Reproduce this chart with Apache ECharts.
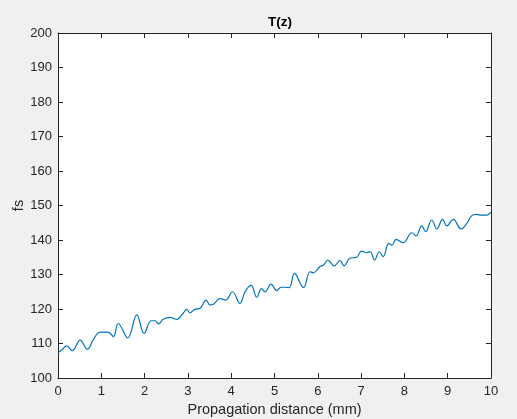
<!DOCTYPE html>
<html>
<head>
<meta charset="utf-8">
<script src="https://cdn.jsdelivr.net/npm/echarts@6/dist/echarts.min.js"></script>
<style>html,body{margin:0;padding:0;background:#f0f0f0;}#c{width:517px;height:419px;}</style>
</head>
<body>
<div id="c"></div>
<script>
var zValues = [0, 0.085, 0.2, 0.33, 0.51, 0.68, 0.82, 0.97, 1.16, 1.28, 1.39, 1.61, 1.82, 1.99, 2.15, 2.24, 2.32, 2.43, 2.59, 2.66, 2.74, 2.9, 2.97, 3.05, 3.16, 3.28, 3.42, 3.51, 3.59, 3.74, 3.87, 4.03, 4.2, 4.32, 4.46, 4.59, 4.7, 4.78, 4.92, 5.05, 5.15, 5.24, 5.34, 5.46, 5.67, 5.82, 5.9, 6.05, 6.13, 6.23, 6.38, 6.51, 6.61, 6.74, 6.9, 7.01, 7.13, 7.21, 7.31, 7.42, 7.51, 7.64, 7.71, 7.81, 7.97, 8.17, 8.27, 8.4, 8.49, 8.63, 8.75, 8.88, 8.98, 9.13, 9.31, 9.44, 9.55, 9.67, 9.79, 9.9, 10];
var tValues = [107.3, 108.1, 109.3, 107.9, 111, 108.3, 111.2, 113.3, 113.3, 112, 115.8, 111.6, 118.3, 112.9, 116.6, 116.6, 115.7, 117, 117.6, 117.3, 117, 118.9, 119.9, 118.9, 119.9, 120.2, 122.6, 121.2, 121.4, 123, 122.6, 125, 121.6, 125, 126.9, 123.4, 125.9, 125, 127.2, 125.3, 126.3, 126.3, 126.2, 130.3, 126.2, 130.8, 130.5, 132.3, 132.7, 134.2, 132.5, 134, 132.5, 134.7, 135, 136.8, 136.3, 136.6, 134.2, 136.6, 135.2, 139, 138.5, 140.2, 139.2, 142.1, 141.2, 144.1, 142.4, 145.8, 143.2, 146, 144.1, 146, 143.2, 144.8, 147, 147.4, 147.2, 147.2, 148.1];
var xTicks = [0,1,2,3,4,5,6,7,8,9,10];
var yTicks = [100,110,120,130,140,150,160,170,180,190,200];

var data = zValues.map(function(z, i){ return [z, tValues[i]]; });
var axisColor = '#262626';
var font = 'Arial, "Liberation Sans", Helvetica, sans-serif';
var chart = echarts.init(document.getElementById('c'));
function xAxisCfg(pos, showLabel) {
  return {
    type: 'value', position: pos, min: xTicks[0], max: xTicks[xTicks.length - 1], interval: 1,
    name: showLabel ? 'Propagation distance (mm)' : '', nameLocation: 'middle', nameGap: 22,
    nameTextStyle: {color: axisColor, fontSize: 14.5, fontFamily: font},
    axisLine: {show: true, onZero: false, lineStyle: {color: axisColor, width: 1}},
    axisTick: {show: true, inside: true, length: 5, lineStyle: {color: axisColor}},
    axisLabel: {show: showLabel, color: axisColor, fontSize: 13, fontFamily: font, margin: 7},
    splitLine: {show: false}
  };
}
function yAxisCfg(pos, showLabel) {
  return {
    type: 'value', position: pos, min: yTicks[0], max: yTicks[yTicks.length - 1], interval: 10,
    name: showLabel ? 'fs' : '', nameLocation: 'middle', nameGap: 32, nameRotate: 90, nameMoveOverlap: false,
    nameTextStyle: {color: axisColor, fontSize: 14.5, fontFamily: font},
    axisLine: {show: true, onZero: false, lineStyle: {color: axisColor, width: 1}},
    axisTick: {show: true, inside: true, length: 5, lineStyle: {color: axisColor}},
    axisLabel: {show: showLabel, color: axisColor, fontSize: 13, fontFamily: font, margin: 6},
    splitLine: {show: false}
  };
}
chart.setOption({
  backgroundColor: '#f0f0f0',
  animation: false,
  title: {
    text: 'T(z)', left: 275, top: 10, textAlign: 'center',
    textStyle: {color: '#000', fontSize: 13.5, fontWeight: 'bold', fontFamily: font}
  },
  grid: {left: 58, right: 26, top: 33, bottom: 41, show: true, backgroundColor: '#ffffff', borderWidth: 0, outerBoundsMode: 'none', containLabel: false},
  xAxis: [xAxisCfg('bottom', true), xAxisCfg('top', false)],
  yAxis: [yAxisCfg('left', true), yAxisCfg('right', false)],
  series: [{
    type: 'line', data: data, smooth: 0.4, showSymbol: false,
    lineStyle: {color: '#0072BD', width: 1.2}
  }]
});
</script>
</body>
</html>
